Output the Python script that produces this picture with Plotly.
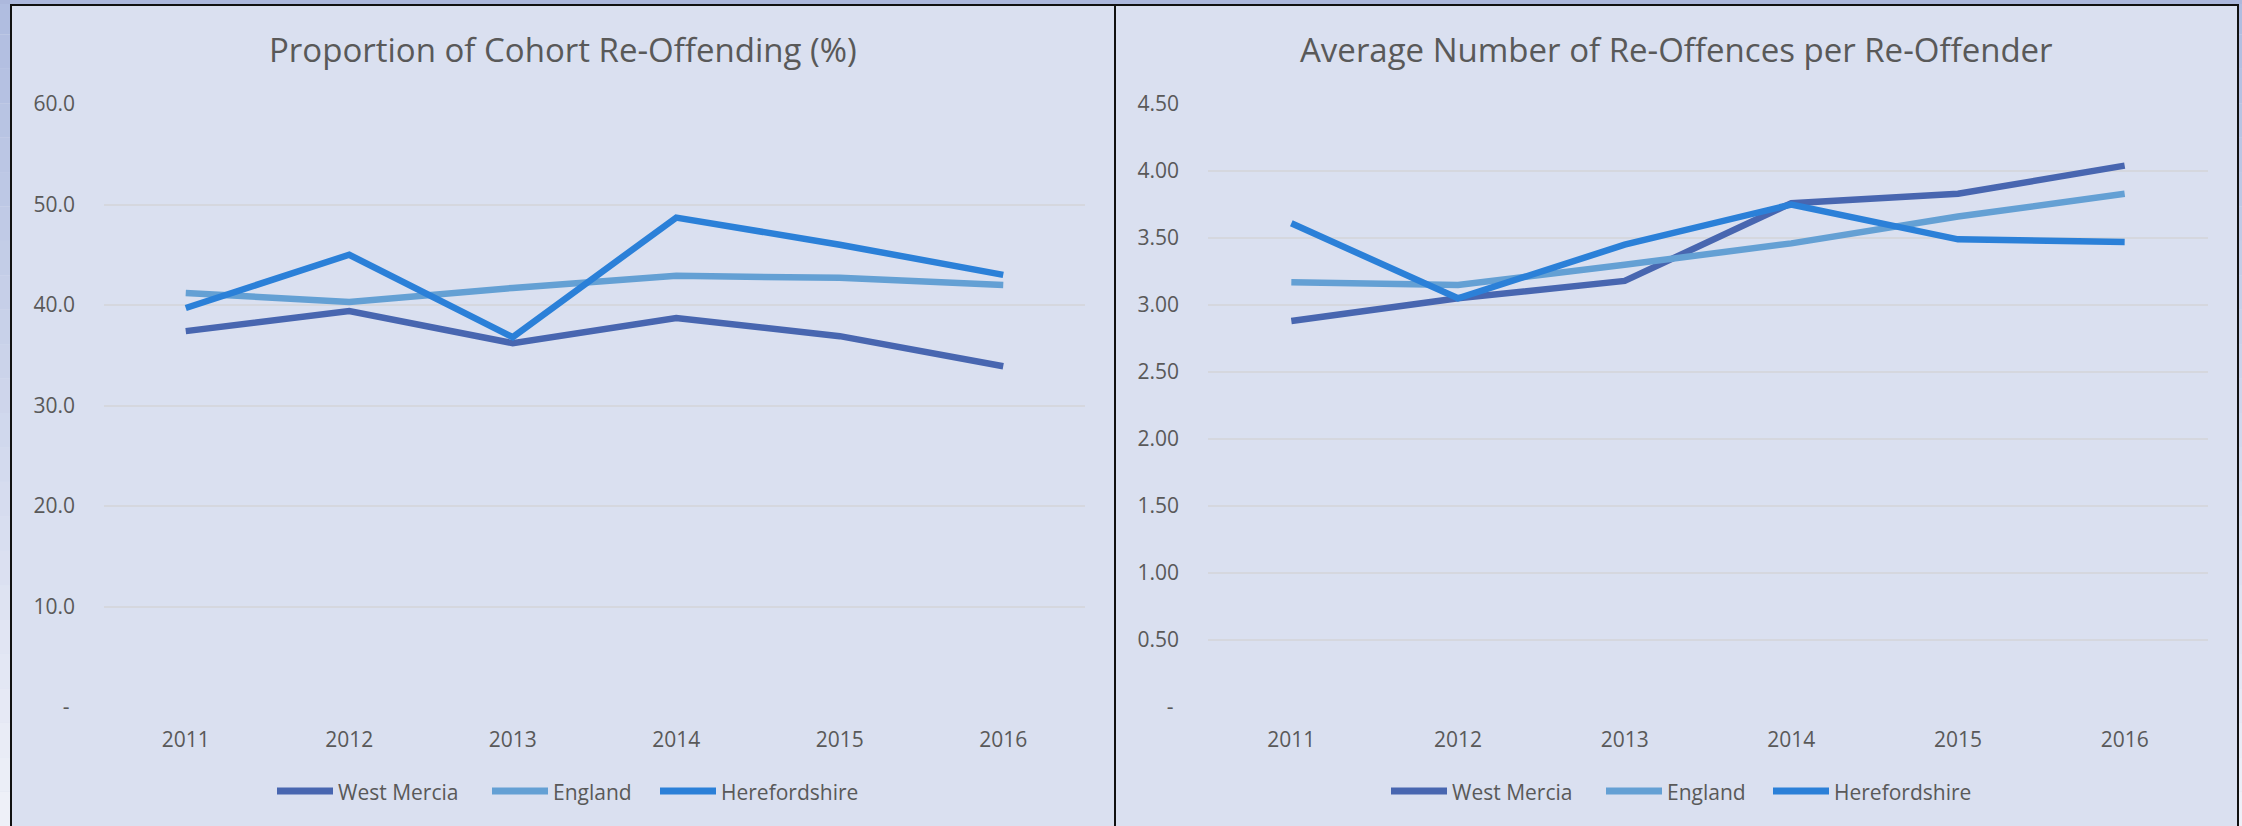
import plotly.graph_objects as go

years = ["2011", "2012", "2013", "2014", "2015", "2016"]

# Proportion of cohort re-offending (%)
prop_west_mercia = [37.4, 39.4, 36.2, 38.7, 36.9, 33.9]
prop_england = [41.2, 40.3, 41.7, 42.9, 42.7, 42.0]
prop_herefordshire = [39.7, 45.0, 36.8, 48.7, 46.0, 43.0]

# Average number of re-offences per re-offender
avg_west_mercia = [2.88, 3.05, 3.18, 3.76, 3.83, 4.04]
avg_england = [3.17, 3.15, 3.30, 3.46, 3.66, 3.83]
avg_herefordshire = [3.61, 3.05, 3.45, 3.75, 3.49, 3.47]

series_names = ["West Mercia", "England", "Herefordshire"]
colors = ["#4866b0", "#64a0d4", "#2b80d8"]

left_ticks = [0, 10, 20, 30, 40, 50, 60]
left_ticktext = ["-\u00a0", "10.0", "20.0", "30.0", "40.0", "50.0", "60.0"]
right_ticks = [0, 0.5, 1.0, 1.5, 2.0, 2.5, 3.0, 3.5, 4.0, 4.5]
right_ticktext = ["-\u00a0", "0.50", "1.00", "1.50", "2.00", "2.50", "3.00", "3.50", "4.00", "4.50"]

W, H = 2242, 826
BG = "#dae0f0"
TXT = "#595959"
FONT = "Open Sans"

fig = go.Figure()

left_data = [prop_west_mercia, prop_england, prop_herefordshire]
right_data = [avg_west_mercia, avg_england, avg_herefordshire]

for name, vals, col in zip(series_names, left_data, colors):
    fig.add_trace(go.Scatter(x=years, y=vals, mode="lines", name=name,
                             line=dict(color=col, width=6.5), xaxis="x", yaxis="y",
                             showlegend=False))
for name, vals, col in zip(series_names, right_data, colors):
    fig.add_trace(go.Scatter(x=years, y=vals, mode="lines", name=name,
                             line=dict(color=col, width=6.5), xaxis="x2", yaxis="y2",
                             showlegend=False))


def px_x(p):
    return p / W


def px_y(p):
    return 1 - p / H


ydom = [px_y(707), px_y(104)]

axis_common = dict(showline=False, zeroline=False, ticks="", automargin=False,
                   tickfont=dict(family=FONT, size=21, color=TXT))

fig.update_layout(
    template="none",
    width=W, height=H, autosize=False,
    margin=dict(l=0, r=0, t=0, b=0, pad=0, autoexpand=False),
    paper_bgcolor=BG, plot_bgcolor=BG,
    font=dict(family=FONT, color=TXT),
    xaxis=dict(domain=[px_x(104), px_x(1085)], range=[-0.5, 5.5], type="category",
               showgrid=False, ticklabelstandoff=18, anchor="y", **axis_common),
    yaxis=dict(domain=ydom, range=[0, 60], tickvals=left_ticks, ticktext=left_ticktext,
               showgrid=True, gridcolor="#d5d7de", gridwidth=2, ticklabelstandoff=28,
               anchor="x", **axis_common),
    xaxis2=dict(domain=[px_x(1208), px_x(2208)], range=[-0.5, 5.5], type="category",
                showgrid=False, ticklabelstandoff=18, anchor="y2", **axis_common),
    yaxis2=dict(domain=ydom, range=[0, 4.5], tickvals=right_ticks, ticktext=right_ticktext,
                showgrid=True, gridcolor="#d5d7de", gridwidth=2, ticklabelstandoff=28,
                anchor="x2", **axis_common),
    showlegend=False,
)

# Titles
fig.add_annotation(text="Proportion of Cohort Re-Offending (%)", x=px_x(563), y=px_y(50),
                   xref="paper", yref="paper", showarrow=False, xanchor="center", yanchor="middle",
                   font=dict(family=FONT, size=33, color=TXT))
fig.add_annotation(text="Average Number of Re-Offences per Re-Offender", x=px_x(1676), y=px_y(50),
                   xref="paper", yref="paper", showarrow=False, xanchor="center", yanchor="middle",
                   font=dict(family=FONT, size=33, color=TXT))

shapes = []

# Legends (one under each chart): swatch line + label
legend_y = 791
legend_left_starts = [277, 492, 660]
legend_right_starts = [1391, 1606, 1773]
swatch_len = 56
for starts in (legend_left_starts, legend_right_starts):
    for name, col, x0 in zip(series_names, colors, starts):
        shapes.append(dict(type="line", xref="paper", yref="paper",
                           x0=px_x(x0), x1=px_x(x0 + swatch_len),
                           y0=px_y(legend_y), y1=px_y(legend_y),
                           line=dict(color=col, width=7)))
        fig.add_annotation(text=name, x=px_x(x0 + swatch_len + 3), y=px_y(legend_y + 1),
                           xref="paper", yref="paper", showarrow=False,
                           xanchor="left", yanchor="middle",
                           font=dict(family=FONT, size=21, color=TXT))

# outer gradient strips (left and right) and top strip
top_c = (176, 189, 224)
bot_c = (238, 240, 248)
n = 24
for i in range(n):
    t = i / (n - 1)
    c = tuple(int(round(top_c[k] + (bot_c[k] - top_c[k]) * t)) for k in range(3))
    col = "rgb(%d,%d,%d)" % c
    y0 = px_y(H * i / n)
    y1 = px_y(H * (i + 1) / n)
    shapes.append(dict(type="rect", xref="paper", yref="paper", x0=0, x1=px_x(10), y0=y1, y1=y0,
                       fillcolor=col, line=dict(width=0), layer="above"))
    shapes.append(dict(type="rect", xref="paper", yref="paper", x0=px_x(2239), x1=1, y0=y1, y1=y0,
                       fillcolor=col, line=dict(width=0), layer="above"))
shapes.append(dict(type="rect", xref="paper", yref="paper", x0=0, x1=1, y0=px_y(4), y1=1,
                   fillcolor="rgb(172,184,220)", line=dict(width=0), layer="above"))
# black borders
for (x0, x1) in [(10, 12), (1114, 1116), (2237, 2239)]:
    shapes.append(dict(type="rect", xref="paper", yref="paper", x0=px_x(x0), x1=px_x(x1),
                       y0=0, y1=px_y(4), fillcolor="#111111", line=dict(width=0), layer="above"))
shapes.append(dict(type="rect", xref="paper", yref="paper", x0=px_x(10), x1=px_x(2239),
                   y0=px_y(6), y1=px_y(4), fillcolor="#111111", line=dict(width=0), layer="above"))
fig.update_layout(shapes=shapes)

post = ("document.documentElement.style.margin='0';document.body.style.margin='0';"
        "document.body.style.overflow='hidden';")
fig.write_html("out.html", post_script=post, config={"displayModeBar": False})
